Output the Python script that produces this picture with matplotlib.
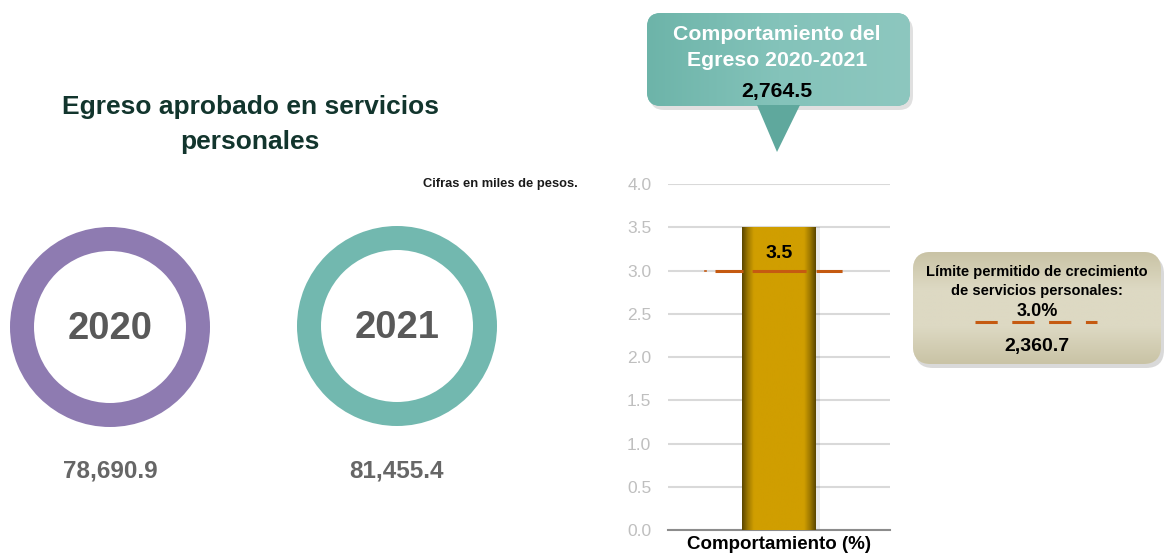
import numpy as np
import matplotlib
matplotlib.use("Agg")
import matplotlib.pyplot as plt
from matplotlib.patches import Wedge, FancyBboxPatch, Polygon
from matplotlib.colors import LinearSegmentedColormap

plt.rcParams['font.family'] = ['Liberation Sans', 'DejaVu Sans']
plt.rcParams['lines.scale_dashes'] = False

# data
years = ['2020', '2021']
approved = [78690.9, 81455.4]
ring_colors = ['#8E7BB1', '#72B8AF']
bar_labels = ['Comportamiento (%)']
bar_values = [3.5]
limit_pct = 3.0
growth_amount = 2764.5
limit_amount = 2360.7
yticks = [0.0, 0.5, 1.0, 1.5, 2.0, 2.5, 3.0, 3.5, 4.0]

W, H = 1164, 554
fig = plt.figure(figsize=(W / 100, H / 100), dpi=100)

# overlay in pixel coords for the decorative parts
ax0 = fig.add_axes([0, 0, 1, 1], zorder=0)
ax0.set_xlim(0, W)
ax0.set_ylim(H, 0)
ax0.axis('off')

ax0.text(250, 107, 'Egreso aprobado en servicios', ha='center', va='center',
         fontsize=19, fontweight='bold', color='#12352D')
ax0.text(250, 142, 'personales', ha='center', va='center',
         fontsize=19, fontweight='bold', color='#12352D')
ax0.text(500, 184, 'Cifras en miles de pesos.', ha='center', va='center',
         fontsize=9.3, fontweight='bold', color='#1A1A1A')

centers = [(110, 327), (397, 326)]
for (cx, cy), yr, val, col in zip(centers, years, approved, ring_colors):
    ax0.add_patch(Wedge((cx, cy), 100, 0, 360, width=24, facecolor=col, edgecolor='none'))
    ax0.text(cx, cy + 2, yr, ha='center', va='center', fontsize=27.5,
             fontweight='bold', color='#595959')
    ax0.text(cx, 471, f'{val:,.1f}', ha='center', va='center', fontsize=17.5,
             fontweight='bold', color='#666666')

# top callout
shadow = FancyBboxPatch((650, 17), 263, 93, boxstyle='round,pad=0,rounding_size=14',
                        facecolor='#000000', alpha=0.12, edgecolor='none')
ax0.add_patch(shadow)
box = FancyBboxPatch((647, 13), 263, 93, boxstyle='round,pad=0,rounding_size=14',
                     facecolor='#7DBFB5', edgecolor='none')
ax0.add_patch(box)
grad = np.linspace(0, 1, 256).reshape(1, -1)
cm_teal = LinearSegmentedColormap.from_list('t', ['#6DB4A9', '#84C3BA', '#8DC7BF'])
im = ax0.imshow(grad, cmap=cm_teal, extent=[647, 910, 106, 13], aspect='auto', zorder=2)
im.set_clip_path(box)
ax0.add_patch(Polygon([[757, 105], [800, 105], [777, 152]], closed=True,
                      facecolor='#5FA89D', edgecolor='none', zorder=2))
ax0.text(777, 34, 'Comportamiento del', ha='center', va='center', fontsize=15.3,
         fontweight='bold', color='white', zorder=3)
ax0.text(777, 61, 'Egreso 2020-2021', ha='center', va='center', fontsize=15.3,
         fontweight='bold', color='white', zorder=3)
ax0.text(777, 92, f'{growth_amount:,.1f}', ha='center', va='center', fontsize=15.3,
         fontweight='bold', color='black', zorder=3)

# right box
shadow2 = FancyBboxPatch((915, 256), 249, 112, boxstyle='round,pad=0,rounding_size=18',
                         facecolor='#000000', alpha=0.15, edgecolor='none')
ax0.add_patch(shadow2)
box2 = FancyBboxPatch((913, 252), 248, 112, boxstyle='round,pad=0,rounding_size=18',
                      facecolor='#DCD8C1', edgecolor='none')
ax0.add_patch(box2)
cm_beige = LinearSegmentedColormap.from_list('b', ['#C9C3A5', '#DDD9C3', '#DDD9C3', '#C9C3A5'])
im2 = ax0.imshow(np.linspace(0, 1, 256).reshape(-1, 1), cmap=cm_beige,
                 extent=[913, 1161, 364, 252], aspect='auto', zorder=2)
im2.set_clip_path(box2)
ax0.text(1037, 272, 'Límite permitido de crecimiento', ha='center', va='center',
         fontsize=10.5, fontweight='bold', color='black', zorder=3)
ax0.text(1037, 291, 'de servicios personales:', ha='center', va='center',
         fontsize=10.5, fontweight='bold', color='black', zorder=3)
ax0.text(1037, 312, f'{limit_pct:.1f}%', ha='center', va='center',
         fontsize=13, fontweight='bold', color='black', zorder=3)
ax0.plot([975, 1097], [322, 322], color='#C55A11', lw=2.2,
         dashes=(16, 10.5), solid_capstyle='butt', zorder=3)
ax0.text(1037, 346, f'{limit_amount:,.1f}', ha='center', va='center',
         fontsize=14, fontweight='bold', color='black', zorder=3)

# bar chart
ax = fig.add_axes([668 / W, (H - 530) / H, 222 / W, 346 / H], zorder=1)
ax.patch.set_alpha(0)
ax.set_yticks(yticks)
ax.set_yticklabels([f'{t:.1f}' for t in yticks])
ax.tick_params(axis='y', length=0, pad=12, labelcolor='#BFBFBF', labelsize=12.5)
ax.set_xticks([0])
ax.set_xticklabels(bar_labels)
ax.tick_params(axis='x', length=0, pad=4, labelsize=13.5)
for lbl in ax.get_xticklabels():
    lbl.set_fontweight('bold')
ax.grid(axis='y', color='#D9D9D9', lw=1.5)
ax.set_axisbelow(True)
for s in ['top', 'right', 'left']:
    ax.spines[s].set_visible(False)
ax.spines['bottom'].set_color('#8C8C8C')
ax.spines['bottom'].set_linewidth(1.5)

# soft shadow to the right of the bar
for i, v in enumerate(bar_values):
    ax.bar(i + 0.06, v, width=1.0, color='#000000', alpha=0.08, zorder=2)
bars = ax.bar(range(len(bar_values)), bar_values, width=1.0, color='#D09E00', zorder=3)
cm_gold = LinearSegmentedColormap.from_list(
    'g', [(0, '#5A4600'), (0.08, '#A07A00'), (0.16, '#D09E00'),
          (0.84, '#D09E00'), (0.92, '#A07A00'), (1, '#5A4600')])
for b, v in zip(bars, bar_values):
    x0 = b.get_x()
    gi = ax.imshow(np.linspace(0, 1, 256).reshape(1, -1), cmap=cm_gold,
                   extent=[x0, x0 + b.get_width(), 0, v], aspect='auto', zorder=3)
    gi.set_clip_path(b)
    ax.text(b.get_x() + b.get_width() / 2, v - 0.3, f'{v:.1f}', ha='center',
            va='center', fontsize=14, fontweight='bold', color='black', zorder=5)
ax.set_xlim(-1.5, 1.5)
ax.set_ylim(0, 4)

# limit line (long-dash) at 3.0 %
ax.plot([-0.86, 1.0], [limit_pct, limit_pct], color='#C55A11', lw=2.2,
        dashes=(20.2, 6.5, 38.9, 7.2, 18.7, 40), solid_capstyle='butt', zorder=4)
ax.plot([-1.0, -0.99], [limit_pct, limit_pct], color='#C55A11', lw=1.2, zorder=4)
ax.plot([0.98, 0.99], [limit_pct, limit_pct], color='#C55A11', lw=1.2, zorder=4)

fig.savefig('out.png', dpi=100)
